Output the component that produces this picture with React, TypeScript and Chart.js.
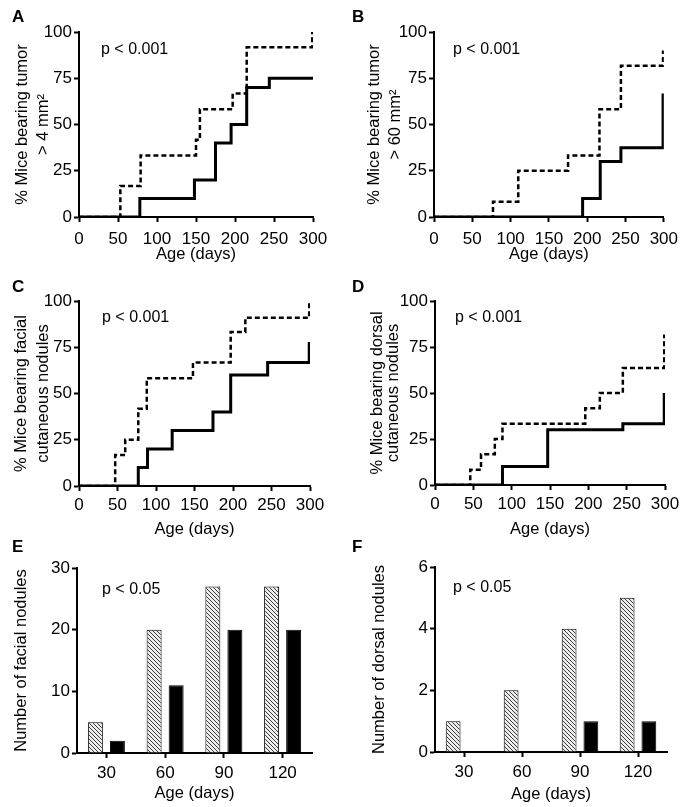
import React, { useEffect, useRef } from 'react';
import { Chart, registerables } from 'chart.js';

Chart.register(...registerables);

const FONT = "'Liberation Sans', Arial, Helvetica, sans-serif";

// ---------------- Data ----------------
// Panel A: % mice bearing tumor > 4 mm2
const aDashedDays = [0, 53, 79, 150, 155, 197, 215, 299];
const aDashedPct = [0, 16.7, 33.3, 41.7, 58.3, 66.7, 91.7, 100];
const aSolidDays = [0, 78, 148, 175, 195, 215, 244, 300];
const aSolidPct = [0, 10, 20, 40, 50, 70, 75, 75];

// Panel B: % mice bearing tumor > 60 mm2
const bDashedDays = [0, 77, 110, 175, 216, 244, 299];
const bDashedPct = [0, 8.3, 25, 33.3, 58.3, 81.8, 90];
const bSolidDays = [0, 194, 217, 244, 299];
const bSolidPct = [0, 10, 30, 37.5, 66.7];

// Panel C: % mice bearing facial cutaneous nodules
const cDashedDays = [0, 47, 60, 77, 88, 148, 197, 216, 299];
const cDashedPct = [0, 16.7, 25, 41.7, 58.3, 66.7, 83.3, 90.9, 100];
const cSolidDays = [0, 77, 89, 121, 174, 197, 245, 299];
const cSolidPct = [0, 10, 20, 30, 40, 60, 66.7, 77.8];

// Panel D: % mice bearing dorsal cutaneous nodules
const dDashedDays = [0, 46, 60, 78, 88, 196, 215, 245, 299];
const dDashedPct = [0, 8.3, 16.7, 25, 33.3, 41.7, 50, 63.6, 81.8];
const dSolidDays = [0, 88, 147, 245, 299];
const dSolidPct = [0, 10, 30, 33.3, 50];

// Panels E/F: nodule counts
const ageCategories = ['30', '60', '90', '120'];
const eHatched = [5, 20, 27, 27];
const eBlack = [2, 11, 20, 20];
const fHatched = [1, 2, 4, 5];
const fBlack = [0, 0, 1, 1];

const pTextStep = 'p < 0.001';
const pTextBar = 'p < 0.05';
const xTitle = 'Age (days)';

// ---------------- Layout / style ----------------
type Lay = {
  letter: string;
  left: number; top: number; w: number; h: number;
  ca: [number, number, number, number]; // left, top, right, bottom inside canvas
  xTitleY: number; yTitleX: number; yTitleLH: number;
  xTickPad: number; pX: number; pY: number;
};

const LAY: Record<string, Lay> = {
  A: { letter: 'A', left: 0, top: 0, w: 340, h: 270, ca: [79, 32, 313, 217], xTitleY: 254, yTitleX: 22, yTitleLH: 21, xTickPad: 7, pX: 22, pY: 18 },
  B: { letter: 'B', left: 340, top: 0, w: 345, h: 270, ca: [94, 32, 326, 217], xTitleY: 254, yTitleX: 34, yTitleLH: 21, xTickPad: 7, pX: 19, pY: 18 },
  C: { letter: 'C', left: 0, top: 270, w: 340, h: 270, ca: [79, 31, 310, 216], xTitleY: 259, yTitleX: 21, yTitleLH: 22, xTickPad: 4, pX: 23, pY: 17 },
  D: { letter: 'D', left: 340, top: 270, w: 345, h: 270, ca: [95, 31, 325, 215], xTitleY: 259, yTitleX: 37, yTitleLH: 16, xTickPad: 4, pX: 20, pY: 17 },
  E: { letter: 'E', left: 0, top: 530, w: 340, h: 277, ca: [77, 38, 312, 223], xTitleY: 263, yTitleX: 21, yTitleLH: 19, xTickPad: 5, pX: 25, pY: 22 },
  F: { letter: 'F', left: 340, top: 530, w: 345, h: 277, ca: [95, 37, 327, 222], xTitleY: 264, yTitleX: 39, yTitleLH: 19, xTickPad: 5, pX: 18, pY: 21 },
};

const pTextPlugin = {
  id: 'pText',
  afterDraw(chart: any, _args: any, opts: any) {
    const { ctx, chartArea } = chart;
    ctx.save();
    ctx.font = `16px ${FONT}`;
    ctx.fillStyle = '#000';
    ctx.textBaseline = 'middle';
    ctx.textAlign = 'left';
    ctx.fillText(opts.text, chartArea.left + opts.dx, chartArea.top + opts.dy);
    ctx.restore();
  },
};

function makeHatch(): CanvasPattern | string {
  const s = 4;
  const c = document.createElement('canvas');
  c.width = s;
  c.height = s;
  const g = c.getContext('2d');
  if (!g) return '#999';
  g.fillStyle = '#eeeeee';
  g.fillRect(0, 0, s, s);
  g.strokeStyle = '#3a3a3a';
  g.lineWidth = 1;
  g.beginPath();
  g.moveTo(-1, -1); g.lineTo(s + 1, s + 1);
  g.moveTo(-1, s - 1); g.lineTo(1, s + 1);
  g.moveTo(s - 1, -1); g.lineTo(s + 1, 1);
  g.stroke();
  const p = g.createPattern(c, 'repeat');
  return p || '#999';
}

function axisCommon(lay: Lay, isX: boolean) {
  return {
    grid: {
      display: true,
      drawOnChartArea: false,
      drawTicks: true,
      tickLength: 5,
      tickWidth: 2,
      tickColor: '#000',
    },
    border: { display: true, color: '#000', width: 2 },
    ticks: {
      color: '#000',
      font: { family: FONT, size: 17 },
      padding: isX ? lay.xTickPad : 2,
      maxRotation: 0,
      autoSkip: false,
    },
  };
}

function buildScales(lay: Lay, yMax: number, yStep: number, yTitle: string | string[], xType: 'linear' | 'category') {
  const [L, T, R, Bt] = lay.ca;
  const xLH = 19;
  const xc = axisCommon(lay, true);
  const yc = axisCommon(lay, false);
  const x: any = {
    ...xc,
    type: xType,
    title: {
      display: true,
      text: xTitle,
      color: '#000',
      font: { family: FONT, size: 16.5, lineHeight: `${xLH}px` },
      padding: { top: 0, bottom: lay.h - lay.xTitleY - xLH / 2 },
    },
    afterFit: (s: any) => { s.height = lay.h - Bt; },
  };
  if (xType === 'linear') {
    x.min = 0;
    x.max = 300;
    x.ticks = { ...xc.ticks, stepSize: 50 };
  } else {
    x.offset = true;
    x.grid = { ...xc.grid, offset: false };
  }
  const y: any = {
    ...yc,
    type: 'linear',
    min: 0,
    max: yMax,
    ticks: { ...yc.ticks, stepSize: yStep },
    title: {
      display: true,
      text: yTitle,
      color: '#000',
      font: { family: FONT, size: 16.5, lineHeight: `${lay.yTitleLH}px` },
      padding: { top: lay.yTitleX - lay.yTitleLH / 2, bottom: 0 },
    },
    afterFit: (s: any) => { s.width = L; },
  };
  return { x, y, padding: { left: 0, top: T, right: lay.w - R, bottom: 0 } };
}

function stepSeries(days: number[], vals: number[], dashed: boolean) {
  return {
    data: days.map((d, i) => ({ x: d, y: vals[i] })),
    stepped: 'before' as const,
    borderColor: '#000',
    backgroundColor: '#000',
    borderWidth: dashed ? 2.5 : 3,
    borderDash: dashed ? [5, 3] : [],
    pointRadius: 0,
    fill: false,
    tension: 0,
  };
}

type PanelDef =
  | { kind: 'step'; lay: Lay; yTitle: string | string[]; dashed: [number[], number[]]; solid: [number[], number[]] }
  | { kind: 'bar'; lay: Lay; yTitle: string; yMax: number; yStep: number; hatched: number[]; black: number[] };

const PANELS: PanelDef[] = [
  { kind: 'step', lay: LAY.A, yTitle: ['% Mice bearing tumor', '> 4 mm²'], dashed: [aDashedDays, aDashedPct], solid: [aSolidDays, aSolidPct] },
  { kind: 'step', lay: LAY.B, yTitle: ['% Mice bearing tumor', '> 60 mm²'], dashed: [bDashedDays, bDashedPct], solid: [bSolidDays, bSolidPct] },
  { kind: 'step', lay: LAY.C, yTitle: ['% Mice bearing facial', 'cutaneous nodules'], dashed: [cDashedDays, cDashedPct], solid: [cSolidDays, cSolidPct] },
  { kind: 'step', lay: LAY.D, yTitle: ['% Mice bearing dorsal', 'cutaneous nodules'], dashed: [dDashedDays, dDashedPct], solid: [dSolidDays, dSolidPct] },
  { kind: 'bar', lay: LAY.E, yTitle: 'Number of facial nodules', yMax: 30, yStep: 10, hatched: eHatched, black: eBlack },
  { kind: 'bar', lay: LAY.F, yTitle: 'Number of dorsal nodules', yMax: 6, yStep: 2, hatched: fHatched, black: fBlack },
];

function Panel({ def }: { def: PanelDef }) {
  const ref = useRef<HTMLCanvasElement | null>(null);
  useEffect(() => {
    const canvas = ref.current;
    if (!canvas) return;
    const lay = def.lay;
    let config: any;
    if (def.kind === 'step') {
      const sc = buildScales(lay, 100, 25, def.yTitle, 'linear');
      config = {
        type: 'line',
        data: {
          datasets: [
            stepSeries(def.dashed[0], def.dashed[1], true),
            stepSeries(def.solid[0], def.solid[1], false),
          ],
        },
        options: {
          responsive: false,
          animation: false,
          layout: { padding: sc.padding },
          scales: { x: sc.x, y: sc.y },
          plugins: {
            legend: { display: false },
            tooltip: { enabled: false },
            pText: { text: pTextStep, dx: lay.pX, dy: lay.pY },
          },
        },
        plugins: [pTextPlugin],
      };
    } else {
      const sc = buildScales(lay, def.yMax, def.yStep, def.yTitle, 'category');
      const hatch = makeHatch();
      config = {
        type: 'bar',
        data: {
          labels: ageCategories,
          datasets: [
            { data: def.hatched, backgroundColor: hatch, borderColor: '#000', borderWidth: 1, categoryPercentage: 0.75, barPercentage: 0.68 },
            { data: def.black, backgroundColor: '#000', borderColor: '#000', borderWidth: 1, categoryPercentage: 0.75, barPercentage: 0.68 },
          ],
        },
        options: {
          responsive: false,
          animation: false,
          layout: { padding: sc.padding },
          scales: { x: sc.x, y: sc.y },
          plugins: {
            legend: { display: false },
            tooltip: { enabled: false },
            pText: { text: pTextBar, dx: lay.pX, dy: lay.pY },
          },
        },
        plugins: [pTextPlugin],
      };
    }
    const chart = new Chart(canvas, config);
    return () => chart.destroy();
  }, [def]);

  const lay = def.lay;
  return (
    <>
      <canvas
        ref={ref}
        width={lay.w}
        height={lay.h}
        style={{ position: 'absolute', left: lay.left, top: lay.top, width: lay.w, height: lay.h }}
      />
      <div
        style={{
          position: 'absolute',
          left: lay.left + 12,
          top: lay.top + 8,
          fontFamily: FONT,
          fontWeight: 'bold',
          fontSize: 17,
          lineHeight: 1,
          color: '#000',
        }}
      >
        {lay.letter}
      </div>
    </>
  );
}

export default function App() {
  return (
    <div style={{ position: 'absolute', left: 0, top: 0, width: 685, height: 807, background: '#fff', overflow: 'hidden' }}>
      {PANELS.map((p) => (
        <Panel key={p.lay.letter} def={p} />
      ))}
    </div>
  );
}
